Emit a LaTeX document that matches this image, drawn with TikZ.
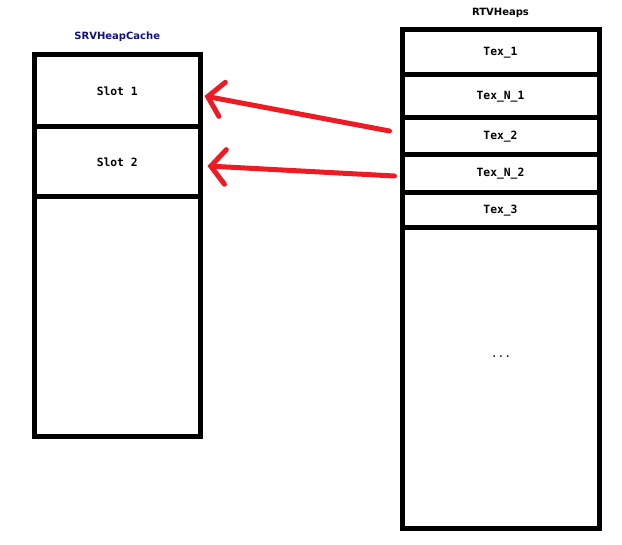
\documentclass[tikz,border=0pt]{standalone}
\usepackage{fontspec}
\setmonofont{DejaVu Sans Mono}
\setsansfont{DejaVu Sans}
\usetikzlibrary{arrows.meta,fit,positioning}

\definecolor{ptrred}{RGB}{237,28,36}
\definecolor{titleblue}{RGB}{16,16,128}

\tikzset{
  box/.style={draw, line width=3.75pt, inner sep=0pt},
  celltext/.style={inner sep=0pt, font=\ttfamily\bfseries\fontsize{8.5}{10}\selectfont},
  cell/.style={box, label={[celltext]center:#1}},
  heading/.style={inner sep=0pt, font=\sffamily\bfseries\fontsize{7.5}{9}\selectfont},
  ptr/.style={draw=ptrred, line width=3.75pt, line cap=round,
    -{Straight Barb[length=11pt,width=26pt,line cap=round]}}
}

\begin{document}
\begin{tikzpicture}[x=0.75pt,y=-0.75pt]
  \useasboundingbox (0,0) rectangle (622,545);

  % SRVHeapCache
  \node[box, fit={(34.5,55) (200,437)}] (cache) {};
  \node[cell={Slot 1}, fit={(34.5,55) (200,127)}] (slot1) {};
  \node[cell={Slot 2}, fit={(34.5,127) (200,197)}] (slot2) {};
  \node[heading, text=titleblue, above=8pt of cache] (lcache) {SRVHeapCache};

  % RTVHeaps
  \node[box, fit={(402,30) (599,529)}] (heaps) {};
  \node[cell={Tex\_1}, fit={(402,30) (599,75)}] (tex1) {};
  \node[cell={Tex\_N\_1}, fit={(402,75) (599,118)}] (texn1) {};
  \node[cell={Tex\_2}, fit={(402,118) (599,155)}] (tex2) {};
  \node[cell={Tex\_N\_2}, fit={(402,155) (599,193)}] (texn2) {};
  \node[cell={Tex\_3}, fit={(402,193) (599,228)}] (tex3) {};
  \node[celltext, font=\ttfamily\fontsize{8.5}{10}\selectfont] (more) at (501,357) {...};
  \node[heading, above=7pt of heaps] (lheaps) {RTVHeaps};

  \draw[ptr] ([shift={(-10,-5.5)}]tex2.west) -- ([shift={(2,5)}]slot1.east);
  \draw[ptr] ([shift={(-5,2)}]texn2.west) -- ([shift={(5,4)}]slot2.east);

\end{tikzpicture}
\end{document}
